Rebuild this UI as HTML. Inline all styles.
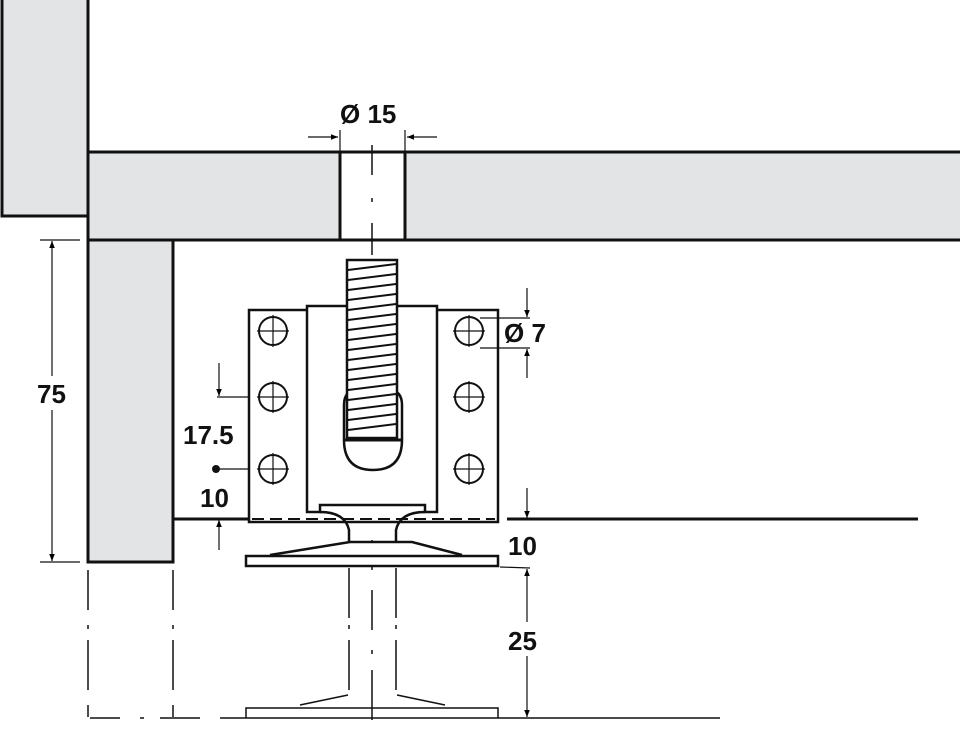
<!DOCTYPE html>
<html><head><style>html,body{margin:0;padding:0;background:#fff}svg{display:block}</style></head>
<body>
<svg width="960" height="730" viewBox="0 0 960 730" xmlns="http://www.w3.org/2000/svg" font-family="Liberation Sans, Arial, sans-serif" font-weight="bold">
<defs>
<marker id="a" viewBox="0 0 10 10" refX="10" refY="5" markerWidth="10" markerHeight="7" orient="auto-start-reverse" markerUnits="userSpaceOnUse"><path d="M0,1 L10,5 L0,9z" fill="#000"/></marker>
</defs>
<g stroke="#111" stroke-width="3" fill="#e3e4e6">
<rect x="2" y="-5" width="86" height="221"/>
<rect x="88" y="152" width="252" height="88"/>
<rect x="405" y="152" width="560" height="88"/>
<rect x="88" y="240" width="85" height="322"/>
</g>
<g stroke="#111" stroke-width="3">
<line x1="340" y1="152" x2="405" y2="152"/>
<line x1="340" y1="240" x2="405" y2="240"/>
<line x1="173" y1="519" x2="249" y2="519"/>
<line x1="507" y1="519" x2="918" y2="519"/>
</g>
<g stroke="#111" stroke-width="1.5" fill="none">
<path d="M372 145v30M372 198v4M372 223v32" />
<path d="M372 540v30M372 590v40M372 650v4M372 670v50"/>
</g>
<g stroke="#111" stroke-width="2.5" fill="#fff">
<rect x="249" y="310" width="249" height="212"/>
<path d="M307 512 V306 H437 V512 H425 V505 H320 V512z"/>
</g>
<path d="M252 519H495" stroke="#111" stroke-width="2" stroke-dasharray="12,6"/>
<g stroke="#111" stroke-width="2" fill="#fff">
<circle cx="273" cy="331" r="14"/><circle cx="273" cy="397" r="14"/><circle cx="273" cy="469" r="14"/>
<circle cx="469" cy="331" r="14"/><circle cx="469" cy="397" r="14"/><circle cx="469" cy="469" r="14"/>
</g>
<g stroke="#111" stroke-width="1.2">
<path d="M257 331h32M273 315v32M257 397h32M273 381v32M257 469h32M273 453v32"/>
<path d="M453 331h32M469 315v32M453 397h32M469 381v32M453 469h32M469 453v32"/>
</g>
<path d="M344 440 V405 Q344 390 358 390 H388 Q402 390 402 405 V440 Q402 470 373 470 Q344 470 344 440z" fill="#fff" stroke="#111" stroke-width="2.5"/>
<line x1="344" y1="440" x2="402" y2="440" stroke="#111" stroke-width="3"/>
<rect x="347" y="260" width="50" height="178" fill="#fff" stroke="#111" stroke-width="2.5"/>
<g stroke="#111" stroke-width="2">
<path d="M348 270l48-6M348 280l48-6M348 290l48-6M348 300l48-6M348 310l48-6M348 320l48-6M348 330l48-6M348 340l48-6M348 350l48-6M348 360l48-6M348 370l48-6M348 380l48-6M348 390l48-6M348 400l48-6M348 410l48-6M348 420l48-6M348 430l48-6"/>
</g>
<path d="M320 512 Q345 512 349 530 V542 M425 512 Q400 512 396 530 V542" fill="none" stroke="#111" stroke-width="2.5"/>
<path d="M270 555 L350 542 H412 L462 555" fill="#fff" stroke="#111" stroke-width="2.5"/>
<rect x="246" y="556" width="252" height="10" fill="#fff" stroke="#111" stroke-width="2.5"/>
<g stroke="#111" stroke-width="1.5" fill="none">
<path d="M349 568v50M349 625v4M349 640v50M396 568v50M396 625v4M396 640v50"/>
<path d="M348 695 L300 705 M397 695 L445 705"/>
<path d="M246 718 V708 H498 V718"/>
<path d="M90 718h30M140 718h4M160 718h40M220 718h500"/>
<path d="M88 570v40M88 625v4M88 640v50M88 705v12M173 570v40M173 625v4M173 640v50M173 705v12"/>
</g>
<g stroke="#111" stroke-width="1.2" fill="none">
<line x1="52" y1="241" x2="52" y2="561" marker-start="url(#a)" marker-end="url(#a)"/>
<path d="M40 240h40M40 562h40"/>
<line x1="308" y1="137" x2="338" y2="137" marker-end="url(#a)"/>
<line x1="437" y1="137" x2="407" y2="137" marker-end="url(#a)"/>
<path d="M340 130v22M405 130v22"/>
<path d="M480 318h50M480 348h50"/>
<line x1="527" y1="288" x2="527" y2="317" marker-end="url(#a)"/>
<line x1="527" y1="378" x2="527" y2="349" marker-end="url(#a)"/>
<path d="M217 397h32M213 469h36"/>
<line x1="219" y1="363" x2="219" y2="396" marker-end="url(#a)"/>
<line x1="219" y1="550" x2="219" y2="520" marker-end="url(#a)"/>
<line x1="527" y1="488" x2="527" y2="518" marker-end="url(#a)"/>
<path d="M500 567 L530 568"/>
<line x1="527" y1="569" x2="527" y2="717" marker-start="url(#a)" marker-end="url(#a)"/>
</g>
<rect x="36" y="376" width="38" height="34" fill="#fff"/>
<rect x="506" y="622" width="42" height="34" fill="#fff"/>
<circle cx="216" cy="469" r="4" fill="#111"/>
<g font-size="26" fill="#111">
<text x="340" y="123">Ø 15</text>
<text x="504" y="342">Ø 7</text>
<text x="37" y="403">75</text>
<text x="183" y="444">17.5</text>
<text x="200" y="507">10</text>
<text x="508" y="555">10</text>
<text x="508" y="650">25</text>
</g>
</svg>
</body></html>
